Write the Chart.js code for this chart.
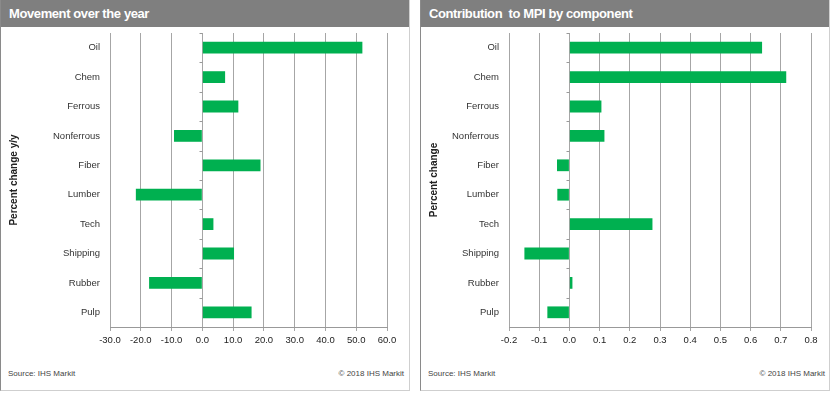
<!DOCTYPE html>
<html lang="en">
<head>
  <meta charset="UTF-8" />
  <title>MPI components</title>
  <script src="https://cdn.jsdelivr.net/npm/chart.js"></script>
  <style>
    * {
      margin: 0;
      padding: 0;
      box-sizing: border-box;
    }

    body {
      width: 834px;
      height: 399px;
      background: #fff;
      font-family: 'Liberation Sans', Arial, sans-serif;
      position: relative;
      overflow: hidden;
    }

    .panel {
      position: absolute;
      top: 0;
      height: 391px;
      border: 1px solid #cfcfcf;
      border-left: 1px solid #8a8a8a;
      border-top: none;
    }

    .panel .head {
      height: 27px;
      background: #7f7f7f;
      color: #fff;
      font-weight: bold;
      font-size: 13px;
      letter-spacing: -0.4px;
      line-height: 28px;
      padding-left: 8px;
      white-space: pre;
    }

    .chart-box {
      position: absolute;
      top: 28px;
      width: 403px;
      height: 330px;
    }

    .chart-box canvas {
      display: block;
    }

    .foot {
      position: absolute;
      top: 369px;
      font-size: 8px;
      color: #444;
    }
  </style>
</head>
<body>

  <div class="panel" style="left:0; width:410px;">
    <div class="head">Movement over the year</div>
  </div>
  <div class="chart-box" style="left:2px;"><canvas id="yoyChart" width="403" height="330"></canvas></div>
  <div class="foot" style="left:8px;">Source: IHS Markit</div>
  <div class="foot" style="right:430px;">© 2018 IHS Markit</div>

  <div class="panel" style="left:420px; width:410px;">
    <div class="head">Contribution  to MPI by component</div>
  </div>
  <div class="chart-box" style="left:422px;"><canvas id="mpiChart" width="403" height="330"></canvas></div>
  <div class="foot" style="left:428px;">Source: IHS Markit</div>
  <div class="foot" style="right:9px;">© 2018 IHS Markit</div>

  <script>
    // data
    const categories = ['Oil', 'Chem', 'Ferrous', 'Nonferrous', 'Fiber', 'Lumber', 'Tech', 'Shipping', 'Rubber', 'Pulp'];
    const yoyChange = [52.0, 7.4, 11.7, -9.2, 18.9, -21.6, 3.6, 10.3, -17.3, 16.0];
    const contribution = [0.638, 0.718, 0.106, 0.116, -0.041, -0.040, 0.275, -0.149, 0.010, -0.073];

    // axis ranges (tick labels)
    const yoyTicks = { min: -30, max: 60, step: 10 };
    const mpiTicks = { min: -0.2, max: 0.8, step: 0.1 };

    const green = '#00b050';
    const gridGray = '#a6a6a6';
    const fontFamily = "'Liberation Sans', Arial, sans-serif";

    // little marks on the zero line between categories
    const zeroTicks = {
      id: 'zeroTicks',
      afterDraw(chart) {
        const { ctx, scales: { x, y } } = chart;
        const x0 = Math.round(x.getPixelForValue(0)) + 0.5;
        const step = (y.bottom - y.top) / categories.length;
        ctx.save();
        ctx.strokeStyle = '#999';
        ctx.lineWidth = 1;
        for (let i = 0; i < categories.length; i++) {
          const py = Math.round(y.top + i * step) + 0.5;
          ctx.beginPath();
          ctx.moveTo(x0 - 3, py);
          ctx.lineTo(x0, py);
          ctx.stroke();
        }
        ctx.restore();
      }
    };

    function makeChart(id, values, ticks, title, yWidth, padRight) {
      const ctx = document.getElementById(id).getContext('2d');
      return new Chart(ctx, {
        type: 'bar',
        data: {
          labels: categories,
          datasets: [{
            data: values,
            backgroundColor: green,
            borderWidth: 0,
            categoryPercentage: 1,
            barPercentage: 0.4
          }]
        },
        options: {
          indexAxis: 'y',
          responsive: false,
          animation: false,
          layout: { padding: { top: 5, right: padRight, left: 0, bottom: 0 } },
          plugins: {
            legend: { display: false },
            tooltip: { enabled: false }
          },
          scales: {
            x: {
              type: 'linear',
              min: ticks.min,
              max: ticks.max,
              ticks: {
                stepSize: ticks.step,
                color: '#222',
                padding: 4,
                font: { family: fontFamily, size: 9.5 },
                callback: v => (Math.abs(v) < 1e-9 ? 0 : v).toFixed(1)
              },
              grid: { color: gridGray, lineWidth: 1, tickLength: 4, drawTicks: true },
              border: { display: true, color: '#999' },
              afterFit: s => { s.height = 31; }
            },
            y: {
              ticks: {
                color: '#333',
                padding: 10,
                font: { family: fontFamily, size: 9.5 }
              },
              grid: { display: false, drawTicks: false },
              border: { display: false },
              title: {
                display: true,
                text: title,
                color: '#222',
                font: { family: fontFamily, size: 10, weight: 'bold' },
                padding: { top: 6, bottom: 0 }
              },
              afterFit: s => {
                s.width = yWidth;
                s.paddingTop = 0;
                s.paddingBottom = 0;
              }
            }
          }
        },
        plugins: [zeroTicks]
      });
    }

    window.onload = () => {
      makeChart('yoyChart', yoyChange, yoyTicks, 'Percent change y/y', 108, 18);
      makeChart('mpiChart', contribution, mpiTicks, 'Percent change', 87, 14);
    };
  </script>
</body>
</html>
